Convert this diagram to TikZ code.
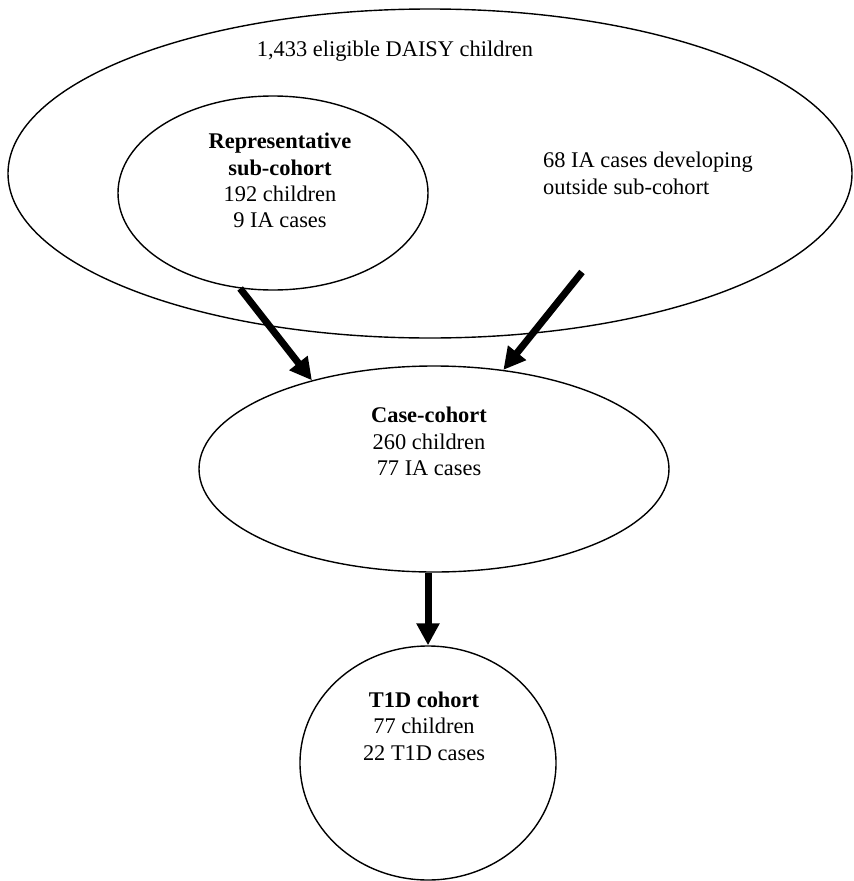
\documentclass[tikz,border=0pt]{standalone}
\usepackage{fontspec}
\setmainfont{Liberation Serif}
\usetikzlibrary{shapes.geometric,arrows.meta}
\begin{document}
\begin{tikzpicture}[x=1pt,y=-1pt,
  oval/.style={draw, ellipse, line width=1.4pt, inner sep=0pt},
  lbl/.style={inner sep=0pt, font=\fontsize{22.4}{26.4}\selectfont, align=center},
  fat/.style={line width=7pt, -{Triangle[length=22pt,width=22pt]}}]
\useasboundingbox (0,0) rectangle (854,881);
% ovals
\node[oval, minimum width=844pt, minimum height=329pt] (daisy) at (430,173.5) {};
\node[oval, minimum width=310pt, minimum height=194pt] (sub) at (273,193) {};
\node[oval, minimum width=470pt, minimum height=206pt] (case) at (434,469) {};
\node[oval, minimum width=256pt, minimum height=234pt] (t1d) at (428,763) {};
% texts
\node[lbl, anchor=north] (daisyt) at (395,41) {1,433 eligible DAISY children};
\node[lbl, anchor=north] (subt) at (280,133) {\textbf{Representative}\\\textbf{sub-cohort}\\192 children\\9 IA cases};
\node[lbl, anchor=north west, align=left] (outt) at (543,152) {68 IA cases developing\\outside sub-cohort};
\node[lbl, anchor=north] (caset) at (429,407) {\textbf{Case-cohort}\\260 children\\77 IA cases};
\node[lbl, anchor=north] (t1dt) at (424,691.5) {\textbf{T1D cohort}\\77 children\\22 T1D cases};
% arrows
\coordinate (tail2) at (582,272);
\draw[fat] (sub.251.6) -- (case.144);
\draw[fat] (tail2) -- (case.55.5);
\draw[fat] (case.south -| t1d.north) -- (t1d.north);
\end{tikzpicture}
\end{document}
